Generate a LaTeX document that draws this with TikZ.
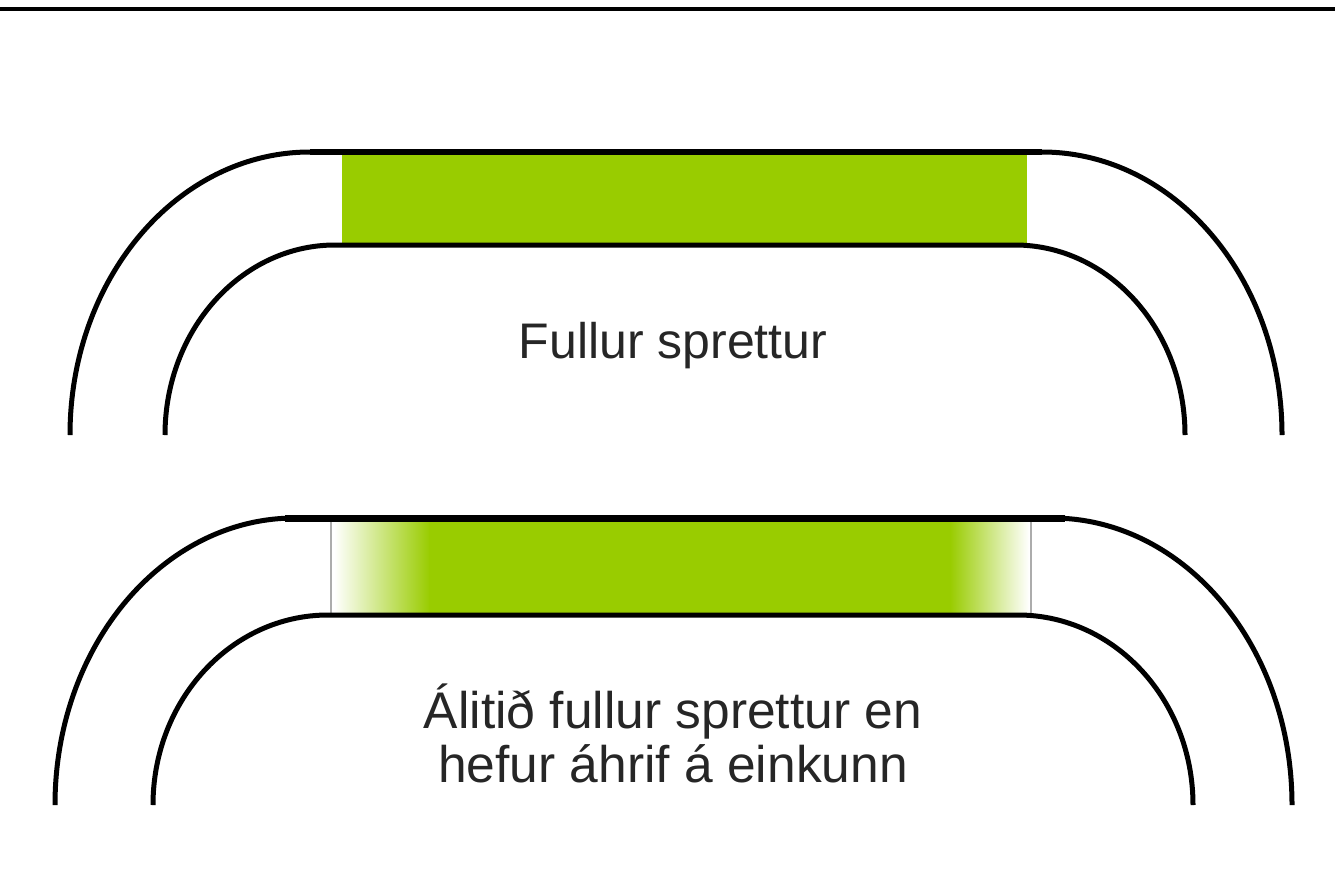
\documentclass[tikz,border=0pt]{standalone}
\usepackage{fontspec}
\setmainfont{Liberation Sans}
\usepackage{xcolor}
\usepackage{tikz}
\usetikzlibrary{positioning}

\definecolor{trackgreen}{RGB}{153,204,0}

\begin{document}
\begin{tikzpicture}[
        x=1pt, y=-1pt,
        lane/.style={line width=5pt, black},
        straight/.style={line width=6pt, black},
        edge/.style={line width=2.5pt, gray!65},
        label/.style={text=black!85, align=center, font=\fontsize{50}{53}\selectfont}
        ]
        \useasboundingbox (0,0) rectangle (1335,892);

        % Rule at the top of the page
        \draw [line width=4pt] (0,9) -- (1335,9);

        % Top track: full sprint
        \fill [trackgreen] (342,152) rectangle (1027,245);
        \draw [lane] (70,435) arc[start angle=180, end angle=270, x radius=240, y radius=283]
            -- (1042,152) arc[start angle=270, end angle=360, x radius=240, y radius=283];
        \draw [lane] (165,435) arc[start angle=180, end angle=270, x radius=170, y radius=190]
            -- (1015,245) arc[start angle=270, end angle=360, x radius=170, y radius=190];
        \draw [straight] (310,152) -- (1042,152);
        \node (full) [label, anchor=base] at (673,358) {Fullur sprettur};

        % Bottom track: sprint with faded ends
        \shade [left color=white, right color=trackgreen] (334,518) rectangle (430,615);
        \fill [trackgreen] (429,518) rectangle (951,615);
        \shade [left color=trackgreen, right color=white] (950,518) rectangle (1029,615);
        \draw [edge] (331,518) -- (331,615);
        \draw [edge] (1031,518) -- (1031,615);
        \draw [lane] (55,805) arc[start angle=180, end angle=270, x radius=240, y radius=287]
            -- (1052,518) arc[start angle=270, end angle=360, x radius=240, y radius=287];
        \draw [lane] (153,805) arc[start angle=180, end angle=270, x radius=175, y radius=190]
            -- (1018,615) arc[start angle=270, end angle=360, x radius=175, y radius=190];
        \draw [line width=7pt] (285,518) -- (1065,518);
        \node (partial) [label, font=\fontsize{51.5}{54}\selectfont] at (673,733) {Álitið fullur sprettur en\\hefur áhrif á einkunn};

    \end{tikzpicture}
\end{document}
